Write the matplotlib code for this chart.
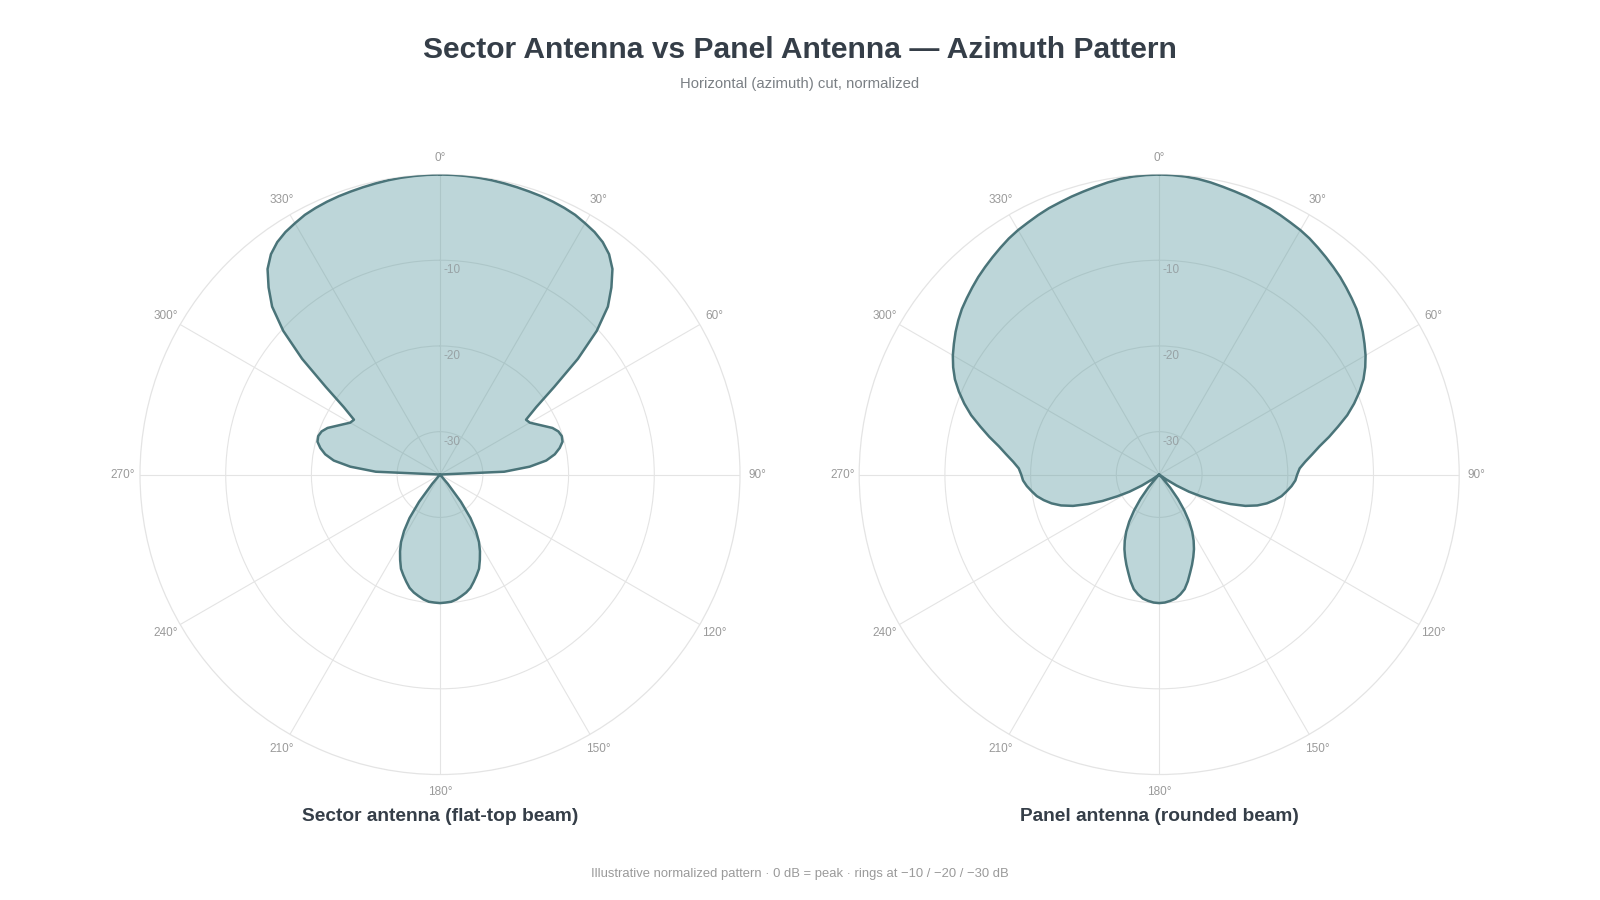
import matplotlib
matplotlib.use("Agg")
import matplotlib.pyplot as plt
import numpy as np

plt.rcParams["font.family"] = ["Liberation Sans", "DejaVu Sans"]

# half-pattern, 0..180 deg every 2.5 deg (pattern is symmetric about boresight)
HALF_ANGLES = np.arange(0, 180.01, 2.5)

SECTOR_DB = [
    0.0, -0.01, -0.04, -0.08, -0.14, -0.22, -0.3, -0.38, -0.45, -0.55,
    -0.68, -0.85, -1.15, -1.45, -1.9, -2.6, -3.7, -5.4, -7.3, -10.2,
    -14.0, -18.2, -21.3, -23.1, -22.9, -22.3, -21.6, -20.8, -20.3, -20.1,
    -20.2, -20.7, -21.4, -22.5, -24.5, -27.5, -35.0, -35.0, -35.0, -35.0,
    -35.0, -35.0, -35.0, -35.0, -35.0, -35.0, -35.0, -35.0, -35.0, -35.0,
    -35.0, -35.0, -35.0, -35.0, -35.0, -35.0, -33.6, -31.0, -28.8, -27.2,
    -25.9, -24.9, -24.0, -23.1, -22.5, -21.9, -21.3, -20.9, -20.6, -20.3,
    -20.1, -20.05, -20.0,
]

PANEL_DB = [
    0.0, -0.03, -0.1, -0.22, -0.4, -0.62, -0.82, -1.0, -1.2, -1.37,
    -1.6, -1.85, -2.07, -2.35, -2.7, -3.05, -3.4, -3.75, -4.15, -4.55,
    -4.95, -5.45, -6.0, -6.6, -7.2, -7.9, -8.7, -9.7, -10.8, -12.0,
    -13.4, -14.7, -16.0, -17.0, -17.9, -18.6, -18.9, -19.1, -19.5, -20.0,
    -20.5, -21.2, -22.0, -23.0, -24.3, -26.0, -27.7, -29.5, -31.0, -32.6,
    -34.0, -35.0, -35.0, -35.0, -35.0, -34.5, -33.0, -31.4, -29.9, -28.5,
    -27.3, -26.3, -25.4, -24.6, -23.8, -23.0, -22.1, -21.3, -20.8, -20.4,
    -20.2, -20.05, -20.0,
]

PANEL_TITLES = ["Sector antenna (flat-top beam)", "Panel antenna (rounded beam)"]
RINGS = [-30, -20, -10]
ANGLE_TICKS = list(range(0, 360, 30))

TITLE = "Sector Antenna vs Panel Antenna \u2014 Azimuth Pattern"
SUBTITLE = "Horizontal (azimuth) cut, normalized"
FOOTER = ("Illustrative normalized pattern \u00b7 0 dB = peak \u00b7 "
          "rings at \u221210 / \u221220 / \u221230 dB")

FILL = "#5b9aa0"
EDGE = "#4a7479"
GRID = "#e4e4e4"
TEXT_DARK = "#353e48"
TEXT_GREY = "#9a9a9a"


def full_circle(half_vals):
    half_vals = np.asarray(half_vals, dtype=float)
    ang = np.concatenate([HALF_ANGLES, 360.0 - HALF_ANGLES[::-1][1:]])
    vals = np.concatenate([half_vals, half_vals[::-1][1:]])
    return np.deg2rad(ang), vals


def draw_pattern(ax, half_vals):
    ax.set_theta_zero_location("N")
    ax.set_theta_direction(-1)
    ax.set_ylim(-35, 0)
    ax.set_yticks(RINGS)
    ax.set_yticklabels([])
    ax.set_xticks(np.deg2rad(ANGLE_TICKS))
    ax.set_xticklabels([])
    ax.grid(True, color=GRID, linewidth=0.8)
    ax.spines["polar"].set_color(GRID)
    ax.spines["polar"].set_linewidth(0.9)
    ax.set_facecolor("white")

    theta, vals = full_circle(half_vals)
    ax.fill(theta, vals, color=FILL, alpha=0.4, linewidth=0, zorder=2)
    ax.plot(theta, vals, color=EDGE, linewidth=1.8, zorder=3)

    for ring in RINGS:
        ax.annotate(str(ring), xy=(0, ring), xytext=(12, -10),
                    textcoords="offset pixels", ha="center", va="center",
                    fontsize=8.5, color="#98a2a5", zorder=4)

    for a in ANGLE_TICKS:
        rad = np.deg2rad(a)
        d = 17
        ax.annotate(f"{a}\u00b0", xy=(rad, 0),
                    xytext=(d * np.sin(rad), d * np.cos(rad)),
                    textcoords="offset pixels", ha="center", va="center",
                    fontsize=8.5, color=TEXT_GREY, annotation_clip=False)


fig = plt.figure(figsize=(16, 9), dpi=100)
fig.patch.set_facecolor("white")

ax_left = fig.add_axes([0.0875, 0.1394, 0.375, 0.6667], projection="polar")
ax_right = fig.add_axes([0.537, 0.1394, 0.375, 0.6667], projection="polar")

draw_pattern(ax_left, SECTOR_DB)
draw_pattern(ax_right, PANEL_DB)

fig.text(0.275, 0.0925, PANEL_TITLES[0], ha="center", va="center",
         fontsize=13.8, fontweight="bold", color=TEXT_DARK)
fig.text(0.7245, 0.0925, PANEL_TITLES[1], ha="center", va="center",
         fontsize=13.8, fontweight="bold", color=TEXT_DARK)

fig.text(0.5, 0.945, TITLE, ha="center", va="center",
         fontsize=21.6, fontweight="bold", color=TEXT_DARK)
fig.text(0.5, 0.907, SUBTITLE, ha="center", va="center",
         fontsize=10.7, color="#7b8085")
fig.text(0.5, 0.0285, FOOTER, ha="center", va="center",
         fontsize=9.4, color=TEXT_GREY)

fig.savefig("out.png", dpi=100, facecolor="white")
